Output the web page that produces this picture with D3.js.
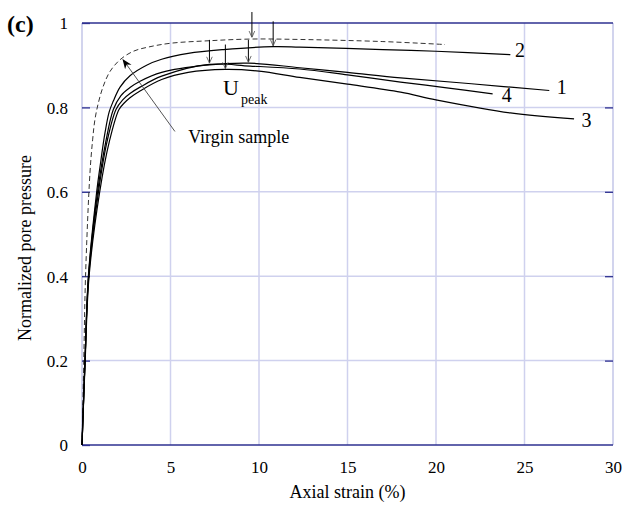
<!DOCTYPE html>
<html>
<head>
<meta charset="utf-8">
<script src="https://cdn.jsdelivr.net/npm/d3@7"></script>
<style>
body { margin:0; background:#fff; }
text { font-family:"Liberation Serif","Times New Roman",serif; fill:#000; }
</style>
</head>
<body>
<svg id="graph"></svg>
<script>
// tick values
let xticks = [0,5,10,15,20,25,30]
let yticks = [0,0.2,0.4,0.6,0.8,1]

// curves: [axial strain %, normalized pore pressure]
let virgin = [[0,0],[0.1,0.2],[0.2,0.4],[0.45,0.645],[0.6,0.723],[0.73,0.771],[0.92,0.81],[1.2,0.85],[1.58,0.885],[2.15,0.913],[2.9,0.933],[3.75,0.943],[5,0.952],[7.2,0.958],[9.6,0.962],[12.3,0.961],[17,0.956],[20.5,0.949]]
let curve2 = [[0,0],[0.17,0.2],[0.36,0.4],[0.83,0.6],[1.02,0.66],[1.3,0.74],[1.54,0.79],[1.77,0.815],[2.15,0.848],[2.71,0.875],[3.65,0.9],[4.5,0.914],[6,0.928],[8,0.937],[10.8,0.944],[12.3,0.943],[17,0.937],[20,0.933],[24.2,0.925]]
let curve1 = [[0,0],[0.17,0.2],[0.37,0.4],[0.88,0.6],[1.35,0.72],[1.77,0.795],[2.2,0.828],[2.71,0.847],[3.28,0.862],[4.5,0.883],[7,0.9],[9.4,0.905],[12.3,0.894],[15,0.883],[18,0.870],[22,0.856],[26.4,0.840]]
let curve4 = [[0,0],[0.17,0.2],[0.38,0.4],[0.93,0.6],[1.42,0.72],[1.92,0.795],[2.3,0.818],[2.71,0.833],[3.28,0.848],[4.5,0.874],[7.2,0.902],[9.5,0.898],[12.3,0.891],[15,0.877],[18,0.860],[20.5,0.847],[23.2,0.832]]
let curve3 = [[0,0],[0.18,0.2],[0.4,0.4],[1.0,0.6],[1.55,0.72],[2.09,0.795],[2.4,0.811],[2.71,0.823],[3.28,0.839],[4.5,0.866],[6,0.883],[8.1,0.890],[10,0.886],[12.3,0.871],[15,0.855],[18,0.836],[20,0.818],[24.2,0.787],[27.8,0.773]]

// curve end labels
let curveLabels = [
    {text:"2",x:24.75,y:0.936},
    {text:"1",x:27.1,y:0.849},
    {text:"4",x:24.0,y:0.830},
    {text:"3",x:28.5,y:0.771}
]

// U peak arrows: strain, start, tip
let peakArrows = [
    {x:7.2,y0:0.96,y1:0.905},
    {x:8.1,y0:0.949,y1:0.892},
    {x:9.4,y0:0.96,y1:0.907},
    {x:9.6,y0:1.026,y1:0.966},
    {x:10.8,y0:1.004,y1:0.946}
]

// width and height of #graph svg
let w = 627;
let h = 505;

let leftmargin = 82;
let rightmargin = 14;
let topmargin = 23;
let downmargin = 60;

let plotw = w-leftmargin-rightmargin;
let ploth = h-topmargin-downmargin;

let xscale = d3.scaleLinear().domain([0,30]).range([0,plotw])
let yscale = d3.scaleLinear().domain([0,1]).range([ploth,0])

let graph = d3.select("#graph")
    .attr("width",w)
    .attr("height",h)

let defs = graph.append("defs")
defs.append("marker")
    .attr("id","open")
    .attr("viewBox","0 0 10 10")
    .attr("refX",10).attr("refY",5)
    .attr("markerWidth",7).attr("markerHeight",7)
    .attr("markerUnits","userSpaceOnUse")
    .attr("orient","auto")
    .append("path")
    .attr("d","M1,1 L10,5 L1,9")
    .attr("fill","none")
    .attr("stroke","#555")
    .attr("stroke-width",1.2)
defs.append("marker")
    .attr("id","filled")
    .attr("viewBox","0 0 10 10")
    .attr("refX",9).attr("refY",5)
    .attr("markerWidth",10).attr("markerHeight",10)
    .attr("markerUnits","userSpaceOnUse")
    .attr("orient","auto")
    .append("path")
    .attr("d","M0,1 L10,5 L0,9 L3,5 Z")
    .attr("fill","#000")

let plot = graph.append("g")
    .attr("transform",`translate(${leftmargin},${topmargin})`)

// grid
plot.selectAll(".vgrid")
    .data(xticks.slice(1,-1))
    .enter().append("line")
    .attr("x1",d=>xscale(d)).attr("x2",d=>xscale(d))
    .attr("y1",0).attr("y2",ploth)
    .attr("stroke","#cfd1ee").attr("stroke-width",1.5)
plot.selectAll(".hgrid")
    .data(yticks.slice(1,-1))
    .enter().append("line")
    .attr("y1",d=>yscale(d)).attr("y2",d=>yscale(d))
    .attr("x1",0).attr("x2",plotw)
    .attr("stroke","#cfd1ee").attr("stroke-width",1.5)

// frame
plot.append("line").attr("x1",0).attr("x2",0).attr("y1",0).attr("y2",ploth)
    .attr("stroke","#b4b7e2").attr("stroke-width",1.2)
plot.append("line").attr("x1",plotw).attr("x2",plotw).attr("y1",0).attr("y2",ploth)
    .attr("stroke","#b4b7e2").attr("stroke-width",1.2)
plot.append("line").attr("x1",0).attr("x2",plotw).attr("y1",0).attr("y2",0)
    .attr("stroke","#2e3190").attr("stroke-width",1.3)
plot.append("line").attr("x1",0).attr("x2",plotw).attr("y1",ploth).attr("y2",ploth)
    .attr("stroke","#2e3190").attr("stroke-width",1.3)

// y axis (ticks inside) on both sides
let yaxis = d3.axisLeft(yscale).tickValues(yticks).tickSize(-8).tickPadding(14)
    .tickFormat(d=>d==0||d==1?d3.format("d")(d):d3.format(".1f")(d))
let yaxisg = plot.append("g").call(yaxis)
yaxisg.select(".domain").remove()
yaxisg.selectAll("line").attr("stroke","#2e3190").attr("stroke-width",1.3)
yaxisg.selectAll("text").style("font-size","17px").style("font-family","Liberation Serif").attr("dy","0.35em")
let yaxisr = d3.axisRight(yscale).tickValues(yticks.slice(1,-1)).tickSize(-8).tickFormat("")
let yaxisrg = plot.append("g").attr("transform",`translate(${plotw},0)`).call(yaxisr)
yaxisrg.select(".domain").remove()
yaxisrg.selectAll("line").attr("stroke","#2e3190").attr("stroke-width",1.3)

// x axis labels only
let xaxis = d3.axisBottom(xscale).tickValues(xticks).tickSize(0).tickPadding(16)
let xaxisg = plot.append("g").attr("transform",`translate(0,${ploth})`).call(xaxis)
xaxisg.select(".domain").remove()
xaxisg.selectAll("text").style("font-size","17px").style("font-family","Liberation Serif")

// curves
let line = d3.line()
    .x(d=>xscale(d[0]))
    .y(d=>yscale(d[1]))
    .curve(d3.curveCatmullRom.alpha(0.5))

plot.append("path").datum(virgin).attr("d",line)
    .attr("fill","none").attr("stroke","#333").attr("stroke-width",1).attr("stroke-dasharray","5,3")
let solids = [curve2,curve1,curve4,curve3]
plot.selectAll(".curve")
    .data(solids)
    .enter().append("path")
    .attr("d",line)
    .attr("fill","none")
    .attr("stroke","#000")
    .attr("stroke-width",1.2)

// curve labels
plot.selectAll(".clabel")
    .data(curveLabels)
    .enter().append("text")
    .attr("x",d=>xscale(d.x))
    .attr("y",d=>yscale(d.y))
    .attr("dy","0.35em")
    .attr("text-anchor","middle")
    .style("font-size","20px")
    .text(d=>d.text)

// peak arrows
plot.selectAll(".parrow")
    .data(peakArrows)
    .enter().append("line")
    .attr("x1",d=>xscale(d.x)).attr("x2",d=>xscale(d.x))
    .attr("y1",d=>yscale(d.y0)).attr("y2",d=>yscale(d.y1))
    .attr("stroke","#000").attr("stroke-width",1)
    .attr("marker-end","url(#open)")

// U peak label
let ut = plot.append("text")
    .attr("x",xscale(7.97))
    .attr("y",yscale(0.83))
    .style("font-size","22px")
ut.append("tspan").text("U")
ut.append("tspan").attr("dy",9).attr("dx",2).style("font-size","14px").text("peak")

// virgin sample
plot.append("line")
    .attr("x1",xscale(5.25)).attr("y1",yscale(0.743))
    .attr("x2",xscale(2.32)).attr("y2",yscale(0.913))
    .attr("stroke","#555").attr("stroke-width",1)
    .attr("marker-end","url(#filled)")
plot.append("text")
    .attr("x",xscale(6.0))
    .attr("y",yscale(0.716))
    .style("font-size","18px")
    .text("Virgin sample")

// axis titles
graph.append("text")
    .attr("x",leftmargin+plotw/2)
    .attr("y",h-7)
    .attr("text-anchor","middle")
    .style("font-size","18px")
    .text("Axial strain (%)")
graph.append("text")
    .attr("transform",`translate(31,${topmargin+ploth/2+14}) rotate(-90)`)
    .attr("text-anchor","middle")
    .style("font-size","18px")
    .text("Normalized pore pressure")

// panel letter
graph.append("text")
    .attr("x",7)
    .attr("y",32)
    .style("font-size","24px")
    .style("font-weight","bold")
    .text("(c)")
</script>
</body>
</html>
